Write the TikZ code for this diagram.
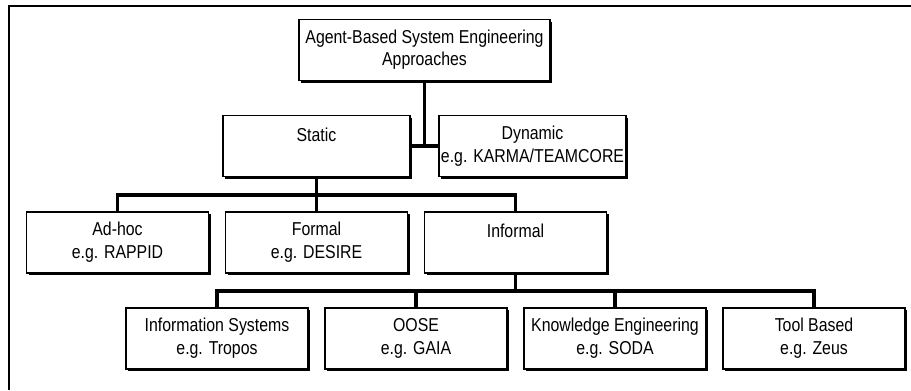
\documentclass[tikz,border=0pt]{standalone}
\usepackage{fontspec}
\setmainfont{Liberation Sans}[FakeStretch=0.85]
\usetikzlibrary{positioning}
\usetikzlibrary{shadows}

\begin{document}
\begin{tikzpicture}[x=0.75pt, y=-0.75pt,
                    box/.style={rectangle, draw, line width=1.2pt, fill=white, outer sep=0pt, inner sep=0pt, align=center, minimum width=136.5pt, minimum height=45.75pt, font=\fontsize{14}{17.5}\selectfont, drop shadow={shadow xshift=1.6pt, shadow yshift=-1.6pt, opacity=1, fill=black}},
                    widebox/.style={box, minimum width=140.25pt},
                    topbox/.style={box, minimum width=188.25pt, font=\fontsize{14}{16.5}\selectfont},
                    link/.style={line width=2.5pt},
                    frame/.style={line width=1.5pt},
                   ]
    \useasboundingbox (0,0) rectangle (911,390);
    \draw[frame] (8.7,390) -- (8.7,5.8) -- (911,5.8);

    %Nodes
    \node[topbox]   (approaches)   at (424.5,50)    {Agent-Based System Engineering\\Approaches};
    \node[widebox]  (static)       at (316.5,146)   {Static\\~};
    \node[widebox]  (dynamic)      [right=21.75pt of static]   {Dynamic\\e.g. KARMA/TEAMCORE};
    \node[box]      (adhoc)        at (117.5,242.5) {Ad-hoc\\e.g. RAPPID};
    \node[box]      (formal)       [right=12.75pt of adhoc]    {Formal\\e.g. DESIRE};
    \node[box]      (informal)     [right=12.75pt of formal]   {Informal\\~};
    \node[box]      (infosys)      at (217,338.5)   {Information Systems\\e.g. Tropos};
    \node[box]      (oose)         [right=12.75pt of infosys]  {OOSE\\e.g. GAIA};
    \node[box]      (knowledge)    [right=12.75pt of oose]     {Knowledge Engineering\\e.g. SODA};
    \node[box]      (toolbased)    [right=12.75pt of knowledge] {Tool Based\\e.g. Zeus};

    %Lines
    \draw[link] (approaches.south) -- (approaches.south |- static.east);
    \draw[link] (static.east) -- (dynamic.west);
    \draw[link] (static.south) -- (formal.north);
    \draw[link] (adhoc.north) -- ++(0,12.75pt) -| (informal.north);
    \draw[link] (informal.south) -- ++(0,-12.75pt);
    \draw[link] (infosys.north) -- ++(0,12.75pt) -| (toolbased.north);
    \foreach \n in {oose, knowledge}
        \draw[link] (\n.north) -- ++(0,12.75pt);
\end{tikzpicture}
\end{document}
